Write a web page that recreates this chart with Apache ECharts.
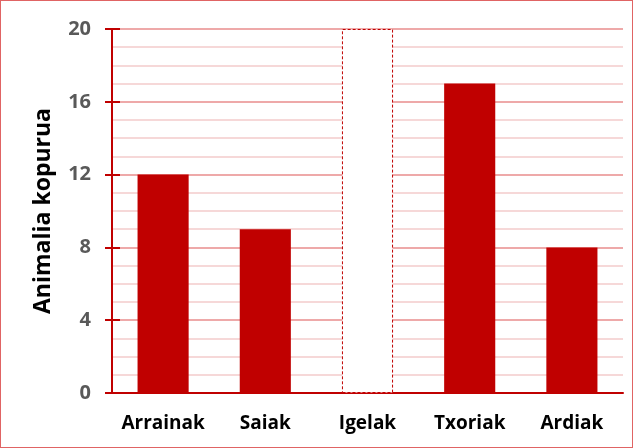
<!DOCTYPE html>
<html>
<head>
<meta charset="utf-8">
<script src="https://cdn.jsdelivr.net/npm/echarts@6/dist/echarts.min.js"></script>
<style>
  html, body { margin: 0; padding: 0; background: #fff; }
  #chart { width: 631px; height: 446px; border: 1px solid #E06464; }
</style>
</head>
<body>
<div id="chart"></div>
<script>
const categories = ['Arrainak', 'Saiak', 'Igelak', 'Txoriak', 'Ardiak'];
const counts = [12, 9, 20, 17, 8];
const outlinedIndex = 2;

const red = '#C00000';
const chart = echarts.init(document.getElementById('chart'));

const barData = counts.map((v, i) => {
  if (i === outlinedIndex) {
    return {
      value: v,
      itemStyle: { color: '#fff', borderColor: red, borderWidth: 1, borderType: [3, 2] },
    };
  }
  return v;
});

const yBase = {
  type: 'value',
  min: 0,
  max: 20,
  interval: 4,
  position: 'left',
};

chart.setOption({
  animation: false,
  grid: { left: 111, right: 9, top: 28, bottom: 54 },
  xAxis: {
    type: 'category',
    data: categories,
    axisLine: { lineStyle: { color: red, width: 2 } },
    axisTick: { show: false },
    axisLabel: {
      interval: 0,
      color: '#000',
      fontFamily: 'Open Sans',
      fontWeight: 'bold',
      fontSize: 19,
      margin: 21,
    },
  },
  yAxis: [
    {
      ...yBase,
      name: 'Animalia kopurua',
      nameLocation: 'middle',
      nameGap: 57,
      nameTextStyle: { color: '#000', fontFamily: 'Open Sans', fontWeight: 'bold', fontSize: 23 },
      axisLine: { show: true, lineStyle: { color: red, width: 2 } },
      axisTick: { show: true, length: 7, lineStyle: { color: red, width: 2 } },
      axisLabel: { color: '#595959', fontFamily: 'Open Sans', fontWeight: 'bold', fontSize: 20, margin: 21 },
      splitLine: { lineStyle: { color: '#E88C8C', width: 1.5 } },
      minorTick: { show: false, splitNumber: 4 },
      minorSplitLine: { show: true, lineStyle: { color: '#F4CCCC', width: 1.5 } },
    },
    {
      ...yBase,
      axisLine: { show: false },
      axisTick: { show: true, inside: true, length: 8, lineStyle: { color: red, width: 2 } },
      axisLabel: { show: false },
      splitLine: { show: false },
    },
  ],
  series: [
    {
      type: 'bar',
      data: barData,
      barWidth: '50%',
      itemStyle: { color: red },
    },
  ],
});
</script>
</body>
</html>
